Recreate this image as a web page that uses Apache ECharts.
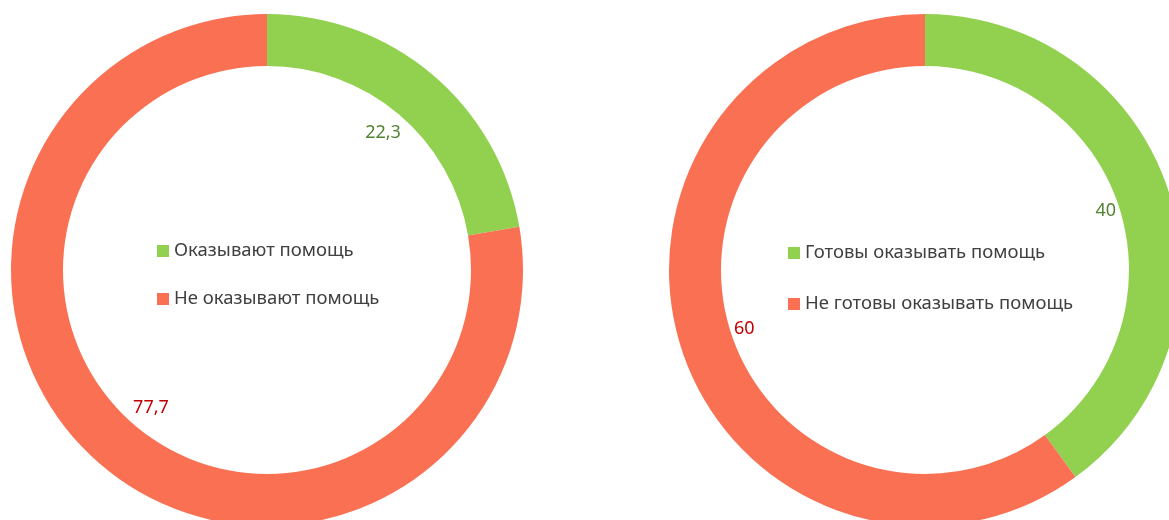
<!DOCTYPE html>
<html>
<head>
<meta charset="utf-8">
<script src="https://cdn.jsdelivr.net/npm/echarts@6/dist/echarts.min.js"></script>
<style>
  html, body { margin: 0; padding: 0; background: #fff; }
  #chart { width: 1169px; height: 520px; }
</style>
</head>
<body>
<div id="chart"></div>
<script>
// данные
const leftNames = ['Оказывают помощь', 'Не оказывают помощь'];
const leftValues = [22.3, 77.7];
const rightNames = ['Готовы оказывать помощь', 'Не готовы оказывать помощь'];
const rightValues = [40, 60];

const colors = ['#92D050', '#FA7053'];
const labelColors = ['#548235', '#C00000'];
const font = '"Noto Sans", "Open Sans", sans-serif';

function toData(names, values) {
    return names.map((n, i) => ({
        name: n,
        value: values[i],
        itemStyle: { color: colors[i] }
    }));
}

// прозрачный слой только для подписей внутри кольца
function labelData(names, values) {
    return names.map((n, i) => ({
        name: n,
        value: values[i],
        itemStyle: { color: 'transparent' },
        label: { color: labelColors[i] }
    }));
}

function legendData(names) {
    return names.map((n, i) => ({ name: n, itemStyle: { color: colors[i] } }));
}

let myChart = echarts.init(document.getElementById('chart'));
let option = {
    animation: false,
    legend: [{
        orient: 'vertical',
        left: 152,
        top: 236,
        itemWidth: 12,
        itemHeight: 12,
        itemGap: 28,
        icon: 'rect',
        selectedMode: false,
        textStyle: { color: '#404040', fontSize: 18.5, lineHeight: 20, fontFamily: font },
        data: legendData(leftNames)
    }, {
        orient: 'vertical',
        left: 783,
        top: 238,
        itemWidth: 12,
        itemHeight: 12,
        itemGap: 31,
        icon: 'rect',
        selectedMode: false,
        textStyle: { color: '#404040', fontSize: 18.5, lineHeight: 20, fontFamily: font },
        data: legendData(rightNames)
    }],
    series: [{
        type: 'pie',
        center: [267, 270],
        radius: [204, 256],
        startAngle: 90,
        clockwise: true,
        silent: true,
        label: { show: false },
        labelLine: { show: false },
        data: toData(leftNames, leftValues)
    }, {
        type: 'pie',
        center: [267, 270],
        radius: [152, 202],
        startAngle: 90,
        silent: true,
        label: {
            show: true,
            position: 'inside',
            fontSize: 18,
            fontFamily: font,
            formatter: (p) => String(p.value).replace('.', ',')
        },
        labelLine: { show: false },
        data: labelData(leftNames, leftValues)
    }, {
        type: 'pie',
        center: [925, 270],
        radius: [204, 256],
        startAngle: 90,
        clockwise: true,
        silent: true,
        label: { show: false },
        labelLine: { show: false },
        data: toData(rightNames, rightValues)
    }, {
        type: 'pie',
        center: [925, 270],
        radius: [170, 204],
        startAngle: 90,
        silent: true,
        label: {
            show: true,
            position: 'inside',
            fontSize: 18,
            fontFamily: font,
            formatter: (p) => String(p.value).replace('.', ',')
        },
        labelLine: { show: false },
        data: labelData(rightNames, rightValues)
    }]
};

option && myChart.setOption(option);
window.addEventListener('resize', () => {
    myChart.resize()
})
</script>
</body>
</html>
